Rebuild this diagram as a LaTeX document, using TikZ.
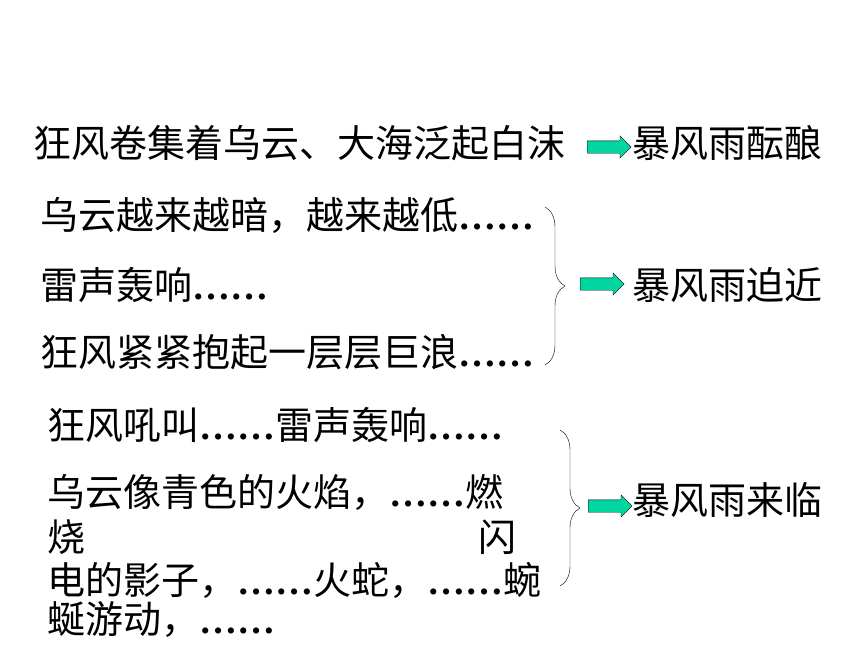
\documentclass[tikz,border=0pt]{standalone}
\usepackage{fontspec}
\setmainfont{Noto Sans CJK SC}
\newfontfamily\dotfont{Liberation Serif}
\usetikzlibrary{shapes.arrows,decorations.pathreplacing}
\definecolor{arrowgreen}{RGB}{0,214,160}
\providecommand{\Dots}{{\dotfont\bfseries ……}}
\providecommand{\Arrow}[2]{
\node[flow] (#1) at (#2) {};
}
\providecommand{\Brace}[2]{
\draw[decorate,decoration={brace,amplitude=20pt}] (#1) -- (#2);
}
\tikzset{
  line/.style={anchor=west,inner sep=0pt,font=\fontsize{38pt}{46pt}\selectfont},
  flow/.style={single arrow,draw,fill=arrowgreen,anchor=west,inner xsep=0pt,inner ysep=6pt,
    minimum height=44pt,single arrow head extend=5pt}
}
\begin{document}
\begin{tikzpicture}[x=1pt,y=-1pt]
\useasboundingbox (0,0) rectangle (860,645);
% first line
\node[line] (gather) at (33,143) {狂风卷集着乌云、大海泛起白沫};
\Arrow{a1}{587,147}
\node[line] (brew) at (632,143) {暴风雨酝酿};
% second group
\node[line] (dark) at (40,215) {乌云越来越暗，越来越低\Dots};
\node[line] (thunder) at (40,285) {雷声轰响\Dots};
\node[line] (waves) at (40,352) {狂风紧紧抱起一层层巨浪\Dots};
\Brace{545,207}{545,365}
\Arrow{a2}{580,284}
\node[line] (near) at (632,285) {暴风雨迫近};
% third group
\node[line] (roar) at (47,425) {狂风吼叫\Dots 雷声轰响\Dots};
\node[line] (flame) at (47,492) {乌云像青色的火焰，\Dots 燃};
\node[line] (burn) at (47,537) {烧};
\node[line] (flash) at (478,537) {闪};
\node[line] (shadow) at (47,580) {电的影子，\Dots 火蛇，\Dots 蜿};
\node[line] (snake) at (47,620) {蜒游动，\Dots};
\Brace{560,430}{560,586}
\Arrow{a3}{588,506}
\node[line] (come) at (632,500) {暴风雨来临};
\end{tikzpicture}
\end{document}
